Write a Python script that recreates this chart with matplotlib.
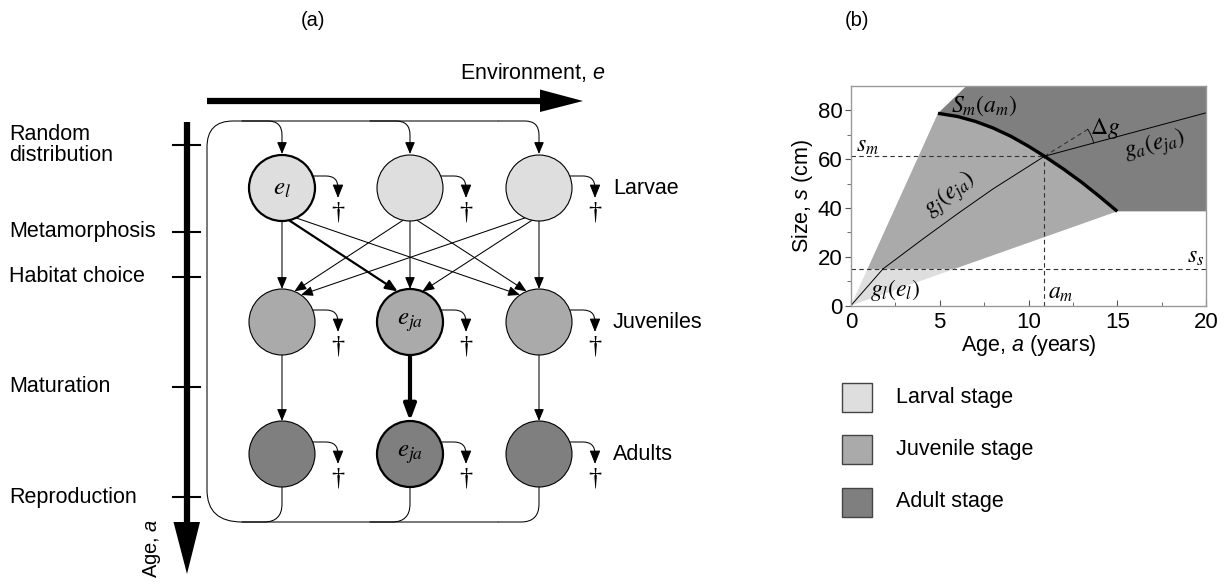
import numpy as np
import matplotlib.pyplot as plt
from matplotlib.patches import Circle, Polygon, FancyArrowPatch, PathPatch, Rectangle
from matplotlib.path import Path

plt.rcParams['font.family'] = ['Liberation Sans', 'DejaVu Sans']
plt.rcParams['mathtext.fontset'] = 'stix'
plt.rcParams['mathtext.rm'] = 'Liberation Sans'
plt.rcParams['mathtext.it'] = 'Liberation Sans:italic'

# ---- panel (a): life-cycle diagram ----
stage_names = ['Larvae', 'Juveniles', 'Adults']
stage_fill = ['#dedede', '#aaaaaa', '#7f7f7f']
col_x = [282, 410, 539]
row_y = [188, 322, 454]
radius = 33
marked = {(0, 0): r'$e_l$', (1, 1): r'$e_{ja}$', (2, 1): r'$e_{ja}$'}
event_names = ['Random\ndistribution', 'Metamorphosis', 'Habitat choice', 'Maturation', 'Reproduction']
event_y = [145, 232, 277, 387, 497]

# ---- panel (b): growth trajectories ----
age_mat = [4.9, 6.0, 7.0, 8.0, 9.0, 10.0, 10.9, 12.0, 13.0, 14.0, 15.0]
size_mat = [78.8, 77.5, 75.5, 72.8, 69.4, 65.3, 61.2, 55.8, 50.5, 44.7, 38.6]
larval_a = [0, 0.93, 5.83]
larval_s = [0, 15, 15]
adult_a = [4.9, 6.5, 20, 20]
adult_s = [78.8, 90, 90, 38.6]
gl_a = [0, 1.8]
gl_s = [0, 15]
gj_a = [1.8, 4.0, 6.0, 8.0, 10.9]
gj_s = [15, 27.0, 37.6, 47.8, 61.2]
ga_a = [10.9, 20]
ga_s = [61.2, 79.0]
dg_a = [10.9, 13.4]
dg_s = [61.2, 72.5]
a_m, s_m, s_s = 10.9, 61.2, 15
legend_labels = ['Larval stage', 'Juvenile stage', 'Adult stage']

fig = plt.figure(figsize=(12.27, 5.86), dpi=100)
ax = fig.add_axes([0, 0, 1, 1])
ax.set_xlim(0, 1227)
ax.set_ylim(586, 0)
ax.axis('off')

FS = 15.5


def arrow(p0, p1, lw=0.75, conn='arc3', scale=12, hl=0.6, hw=0.25, style=None, z=3):
    st = style or f'-|>,head_length={hl},head_width={hw}'
    ax.add_patch(FancyArrowPatch(p0, p1, arrowstyle=st, connectionstyle=conn,
                                 mutation_scale=scale, lw=lw, color='k',
                                 shrinkA=0, shrinkB=0, zorder=z))


# age axis
ax.plot([187, 187], [122, 523], color='k', lw=4.5, solid_capstyle='butt')
ax.add_patch(Polygon([(173.5, 522), (200, 522), (187, 574)], closed=True, fc='k', ec='none'))
for y, name in zip(event_y, event_names):
    ax.plot([173, 200], [y, y], color='k', lw=1.5)
    ax.text(9, y, name, fontsize=FS, ha='left', va='center', linespacing=1.0)
ax.text(152, 578, r'Age, $a$', fontsize=FS - 1, rotation=90, ha='center', va='bottom',
        math_fontfamily='custom')

# environment axis
ax.plot([207, 541], [101, 101], color='k', lw=4.5, solid_capstyle='butt')
ax.add_patch(Polygon([(540, 89.5), (540, 112), (583, 101)], closed=True, fc='k', ec='none'))
ax.text(606, 72, r'Environment, $e$', fontsize=FS, ha='right', va='center',
        math_fontfamily='custom')

# recruitment loop
top_y, bot_y, left_x = 121, 522, 207
verts = [(col_x[2] - 40, top_y), (233, top_y), (left_x, top_y), (left_x, top_y + 26),
         (left_x, bot_y - 32), (left_x, bot_y), (242, bot_y), (col_x[2] - 40, bot_y)]
codes = [Path.MOVETO, Path.LINETO, Path.CURVE3, Path.CURVE3,
         Path.LINETO, Path.CURVE3, Path.CURVE3, Path.LINETO]
ax.add_patch(PathPatch(Path(verts, codes), fc='none', ec='k', lw=0.75))
for x in col_x:
    arrow((x - 40, top_y), (x, row_y[0] - radius - 1), conn='angle,angleA=0,angleB=90,rad=14')
    arrow((x, row_y[2] + radius), (x - 40, bot_y), style='-',
          conn='angle,angleA=90,angleB=0,rad=18')

# larvae -> juveniles (habitat choice)
shift = [0, 7, 14]
end_ang = [0, 22, 35]
for i, xs in enumerate(col_x):
    for j, xt in enumerate(col_x):
        d = abs(j - i)
        sgn = np.sign(j - i)
        sx = xs + sgn * shift[d]
        sy = row_y[0] + np.sqrt(radius ** 2 - (sx - xs) ** 2)
        ang = np.radians(end_ang[d])
        ex = xt - sgn * radius * np.sin(ang)
        ey = row_y[1] - radius * np.cos(ang)
        arrow((sx, sy), (ex, ey), lw=1.6 if (i, j) == (0, 1) else 0.75)

# juveniles -> adults (maturation)
for j, x in enumerate(col_x):
    if j == 1:
        arrow((x, row_y[1] + radius), (x, row_y[2] - radius), lw=3, scale=12, hl=0.8, hw=0.3)
    else:
        arrow((x, row_y[1] + radius), (x, row_y[2] - radius))

# nodes, mortality
for r, y in enumerate(row_y):
    for c, x in enumerate(col_x):
        hl = (r, c) in marked
        ax.add_patch(Circle((x, y), radius, fc=stage_fill[r], ec='k',
                            lw=1.6 if hl else 0.8, zorder=4))
        if hl:
            ax.text(x, y, marked[(r, c)], fontsize=18, ha='center', va='center',
                    math_fontfamily='stix', zorder=5)
        arrow((x + 31, y - 12), (x + 56, y + 10), conn='angle,angleA=0,angleB=90,rad=12',
              scale=11, hl=0.75, hw=0.3)
        ax.text(x + 56, y + 25, '\u2020', fontsize=19, family='Liberation Serif',
                ha='center', va='center')
    ax.text(613, y, stage_names[r], fontsize=FS, ha='left', va='center')

ax.text(313, 20, '(a)', fontsize=FS - 1, ha='center', va='center')
ax.text(857, 20, '(b)', fontsize=FS - 1, ha='center', va='center')

# legend
for k, lab in enumerate(legend_labels):
    yc = 397 + 52.5 * k
    ax.add_patch(Rectangle((842, yc - 14.5), 30, 29, fc=stage_fill[k], ec='#444444', lw=1))
    ax.text(896, yc, lab, fontsize=FS, ha='left', va='center')

# ---- panel (b) ----
bx = fig.add_axes([851 / 1227, (586 - 305.5) / 586, 355 / 1227, 219.5 / 586])
bx.set_xlim(0, 20)
bx.set_ylim(0, 90)
bx.fill(larval_a, larval_s, color=stage_fill[0], lw=0)
bx.fill([larval_a[1]] + age_mat + [larval_a[2]], [larval_s[1]] + size_mat + [larval_s[2]],
        color=stage_fill[1], lw=0)
bx.fill(adult_a + age_mat[::-1], adult_s + size_mat[::-1], color=stage_fill[2], lw=0)

dash = dict(color='#333333', lw=0.8, dashes=(4, 3))
bx.plot([0, a_m], [s_m, s_m], **dash)
bx.plot([a_m, a_m], [0, s_m], **dash)
bx.plot([0, 20], [s_s, s_s], **dash)
bx.plot(dg_a, dg_s, **dash)

bx.plot(gl_a, gl_s, color='k', lw=0.7)
bx.plot(gj_a, gj_s, color='k', lw=0.7)
bx.plot(ga_a, ga_s, color='k', lw=0.7)
bx.plot(age_mat, size_mat, color='k', lw=2.4, solid_capstyle='butt')

theta = np.radians(np.linspace(15, 32, 20))
bx.plot(a_m + 51 * np.cos(theta) / 17.75, s_m + 51 * np.sin(theta) / 2.439, color='k', lw=0.6)

labels_b = [(r'$S_m(a_m)$', 7.5, 82, 0), (r'$\Delta g$', 14.3, 72.5, 0),
            (r'$g_a(e_{ja})$', 17.1, 65.5, 14), (r'$g_j(e_{ja})$', 5.6, 45.5, 38),
            (r'$g_l(e_l)$', 2.5, 6.5, 0), (r'$s_m$', 0.9, 65.5, 0),
            (r'$s_s$', 19.4, 20, 0), (r'$a_m$', 11.8, 5, 0)]
for lab, xa, ys, rot in labels_b:
    bx.text(xa, ys, lab, fontsize=17, ha='center', va='center', rotation=rot,
            math_fontfamily='stix')

bx.set_xticks([0, 5, 10, 15, 20])
bx.set_xticks(np.arange(0, 20.1, 2.5), minor=True)
bx.set_yticks([0, 20, 40, 60, 80])
bx.set_yticks(np.arange(0, 81, 10), minor=True)
bx.tick_params(axis='x', which='both', direction='in', labelsize=16, colors='#555555',
               labelcolor='k', pad=5)
bx.tick_params(axis='y', which='both', direction='out', labelsize=16, colors='#555555',
               labelcolor='k', pad=2)
bx.tick_params(which='major', length=4)
bx.tick_params(which='minor', length=3)
for sp in bx.spines.values():
    sp.set_color('#999999')
    sp.set_linewidth(1)
bx.set_xlabel(r'Age, $a$ (years)', fontsize=FS, labelpad=0, math_fontfamily='custom')
bx.set_ylabel(r'Size, $s$ (cm)', fontsize=FS, labelpad=2, math_fontfamily='custom')

fig.savefig('out.png', dpi=100)
